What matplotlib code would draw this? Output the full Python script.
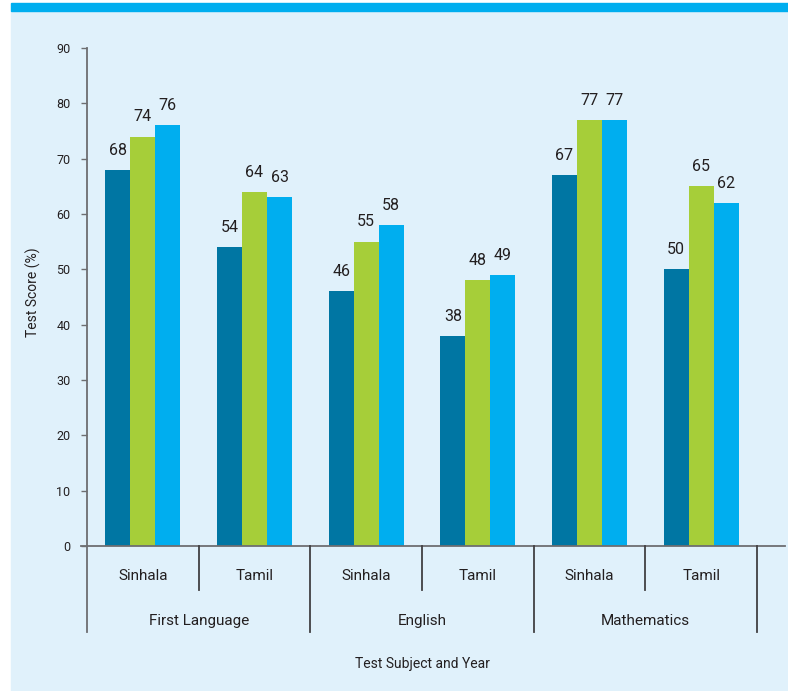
import matplotlib.pyplot as plt
from matplotlib.patches import Rectangle
import numpy as np

plt.rcParams['font.family'] = ['Roboto', 'DejaVu Sans']

groups = ['First Language', 'English', 'Mathematics']
subs = ['Sinhala', 'Tamil', 'Sinhala', 'Tamil', 'Sinhala', 'Tamil']
yr1 = [68, 54, 46, 38, 67, 50]
yr2 = [74, 64, 55, 48, 77, 65]
yr3 = [76, 63, 58, 49, 77, 62]
colors = ['#0076a3', '#a6ce39', '#00aeef']
yticks = [0, 10, 20, 30, 40, 50, 60, 70, 80, 90]

bg = '#e0f1fb'
fig = plt.figure(figsize=(7.88, 6.91), dpi=100)
# light panel and blue band at top
fig.patches.append(Rectangle((11/788, 0), 1, 680/691, transform=fig.transFigure, color=bg, zorder=-10))
fig.patches.append(Rectangle((11/788, 680/691), 1, 8/691, transform=fig.transFigure, color='#00aeef', zorder=-10))

ax = fig.add_axes([87/788, 145/691, 670/788, 498/691])
ax.set_facecolor('none')

x = np.arange(len(subs))
w = 0.224
for i, vals in enumerate([yr1, yr2, yr3]):
    bars = ax.bar(x + (i - 1) * w, vals, w, color=colors[i], zorder=2)
    for b, v in zip(bars, vals):
        ax.text(b.get_x() + b.get_width() / 2, v + 2.2, str(v), ha='center', va='bottom',
                fontsize=11.5, color='#231f20')

ax.set_xlim(-0.5, 5.5)
ax.set_ylim(0, 90)
ax.set_yticks(yticks)
ax.tick_params(axis='y', length=4, width=1, color='#6d6e71', labelsize=9, pad=8, labelcolor='#231f20')
ax.set_xticks([])
for s in ax.spines.values():
    s.set_visible(False)

tr = ax.get_xaxis_transform()
line_kw = dict(transform=tr, clip_on=False, lw=1.3)
# axes lines
ax.plot([-0.5, -0.5], [1, -0.173], color='#6d6e71', **line_kw)
ax.plot([-0.554, 5.75], [0, 0], color='#6d6e71', **line_kw)
# separators
for xs in [0.5, 2.5, 4.5]:
    ax.plot([xs, xs], [0, -0.088], color='#414042', **line_kw)
for xs in [1.5, 3.5, 5.5]:
    ax.plot([xs, xs], [0, -0.173], color='#414042', **line_kw)

for xi, s in zip(x, subs):
    ax.text(xi, -0.060, s, transform=tr, ha='center', va='center', fontsize=11, color='#231f20')
for gi, g in enumerate(groups):
    ax.text(2 * gi + 0.5, -0.151, g, transform=tr, ha='center', va='center', fontsize=11, color='#231f20')

ax.text(2.5, -0.237, 'Test Subject and Year', transform=tr, ha='center', va='center',
        fontsize=10, color='#231f20')
fig.text(33/788, 1 - 292/691, 'Test Score (%)', rotation=90, ha='center', va='center',
         fontsize=10, color='#231f20')

fig.savefig('out.png', dpi=100)
